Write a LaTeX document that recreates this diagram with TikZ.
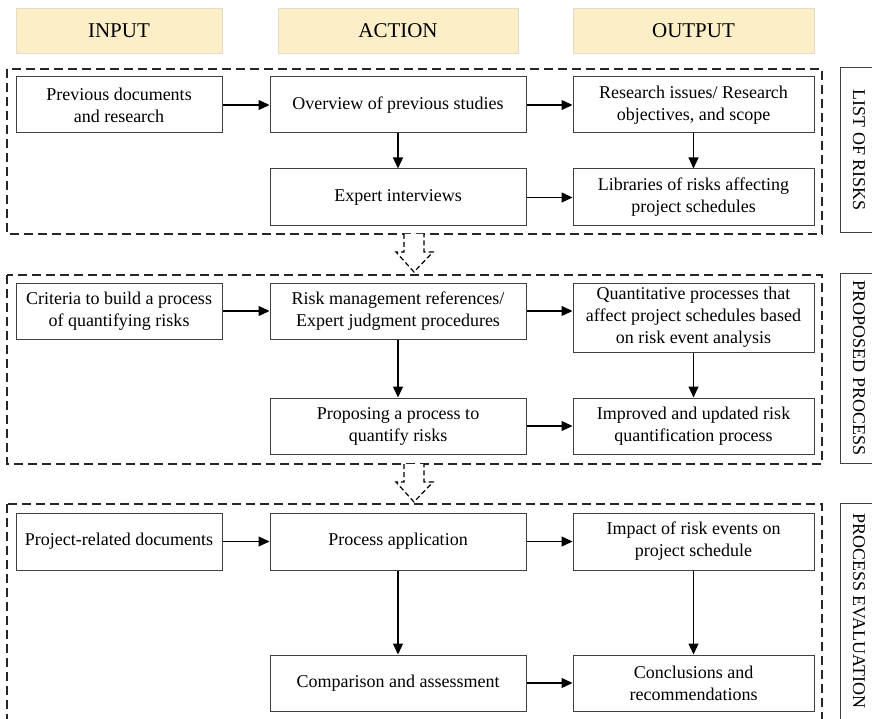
\documentclass[tikz,border=0pt]{standalone}
\usepackage{fontspec}
\setmainfont{Liberation Serif}
\usetikzlibrary{arrows.meta,positioning,calc}
\definecolor{hdrfill}{HTML}{FCEFC7}
\definecolor{hdrline}{HTML}{E2DCC8}
\definecolor{boxline}{HTML}{404040}
\tikzset{
  hdr/.style={draw=hdrline,fill=hdrfill,line width=0.8pt,inner sep=0pt,
    font=\fontsize{21}{24}\selectfont,minimum height=45pt},
  pbox/.style={draw=boxline,line width=1pt,inner sep=2pt,align=center,
    font=\fontsize{18}{22}\selectfont,minimum height=56pt},
  grp/.style={draw=black!85,line width=1.2pt,dash pattern=on 9pt off 5pt},
  side/.style={draw=boxline,line width=1pt},
  sidelabel/.style={rotate=-90,font=\fontsize{18}{20}\selectfont},
  flow/.style={line width=1.3pt,-{Triangle[length=11pt,width=10pt]}},
  barrow/.style={draw=black,line width=1.2pt,dash pattern=on 5pt off 3pt,fill=white}
}
\begin{document}
\begin{tikzpicture}[x=1pt,y=-1pt]
\useasboundingbox (0,0) rectangle (872,719);
\clip (0,0) rectangle (872,719);
% headers
\node[hdr,minimum width=206pt] (hin) at (119,30.5) {INPUT};
\node[hdr,minimum width=240pt] (hact) at (398,30.5) {ACTION};
\node[hdr,minimum width=241pt] (hout) at (693.5,30.5) {OUTPUT};
% group frames
\draw[grp] (7,69) rectangle (822,234);
\draw[grp] (7,275) rectangle (822,464);
\draw[grp] (7,504) rectangle (822,730);
% side label boxes
\draw[side] (840,68) rectangle (880,233);
\draw[side] (840,273) rectangle (880,463);
\draw[side] (840,503) rectangle (880,730);
\node[sidelabel] (s1) at (859,150.5) {LIST OF RISKS};
\node[sidelabel] (s2) at (859,368) {PROPOSED PROCESS};
\node[sidelabel] (s3) at (859,611) {PROCESS EVALUATION};
% block arrows
\draw[barrow] (404,234) -- (404,252) -- (396,252) -- (414,272) -- (433,252) -- (424,252) -- (424,234);
\draw[barrow] (404,464) -- (404,482) -- (396,482) -- (414,502) -- (433,482) -- (424,482) -- (424,464);
% section 1
\node[pbox,minimum width=206pt] (prev) at (119,105) {Previous documents\\and research};
\node[pbox,minimum width=256pt] (over) at (398,105) {Overview of previous studies};
\node[pbox,minimum width=241pt] (res) at (693.5,105) {Research issues/ Research\\objectives, and scope};
\node[pbox,minimum width=256pt,minimum height=57pt] (exp) at (398,197.5) {Expert interviews};
\node[pbox,minimum width=241pt,minimum height=57pt] (lib) at (693.5,197.5) {Libraries of risks affecting\\project schedules};
\draw[flow] (prev) -- (over);
\draw[flow] (over) -- (res);
\draw[flow] (over) -- (exp);
\draw[flow] (res) -- (lib);
\draw[flow] (exp) -- (lib);
% section 2
\node[pbox,minimum width=206pt] (crit) at (119,311) {Criteria to build a process\\of quantifying risks};
\node[pbox,minimum width=256pt] (rm) at (398,311) {Risk management references/\\Expert judgment procedures};
\node[pbox,minimum width=241pt,minimum height=69pt] (quant) at (693.5,317.5) {Quantitative processes that\\affect project schedules based\\on risk event analysis};
\node[pbox,minimum width=256pt] (prop) at (398,426) {Proposing a process to\\quantify risks};
\node[pbox,minimum width=241pt] (impr) at (693.5,426) {Improved and updated risk\\quantification process};
\draw[flow] (crit) -- (rm);
\draw[flow] (rm.east) -- (rm.east -| quant.west);
\draw[flow] (rm) -- (prop);
\draw[flow] (quant) -- (impr);
\draw[flow] (prop) -- (impr);
% section 3
\node[pbox,minimum width=206pt,minimum height=57pt] (proj) at (119,541.5) {Project-related documents};
\node[pbox,minimum width=256pt,minimum height=57pt] (app) at (398,541.5) {Process application};
\node[pbox,minimum width=241pt,minimum height=57pt] (imp) at (693.5,541.5) {Impact of risk events on\\project schedule};
\node[pbox,minimum width=256pt] (comp) at (398,683) {Comparison and assessment};
\node[pbox,minimum width=241pt] (conc) at (693.5,683) {Conclusions and\\recommendations};
\draw[flow] (proj) -- (app);
\draw[flow] (app) -- (imp);
\draw[flow] (app) -- (comp);
\draw[flow] (imp) -- (conc);
\draw[flow] (comp) -- (conc);
\end{tikzpicture}
\end{document}
